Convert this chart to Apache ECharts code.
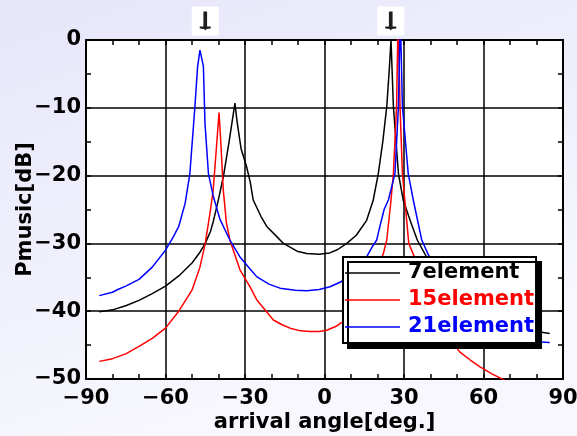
<!DOCTYPE html>
<html>
<head>
<meta charset="utf-8">
<script src="https://cdn.jsdelivr.net/npm/echarts@6/dist/echarts.min.js"></script>
<style>
  html, body { margin: 0; padding: 0; }
  #chart { width: 577px; height: 436px; }
</style>
</head>
<body>
<div id="chart"></div>
<script>
// arrival angle [deg], Pmusic [dB]
const names = ['7element', '15element', '21element'];
const colors = ['#000000', '#ff0000', '#0000ff'];

const elem7 = [
  [-85, -40.1], [-80, -39.8], [-75, -39.2], [-70, -38.4], [-65, -37.4], [-60, -36.3],
  [-55, -34.8], [-50, -32.9], [-47, -31.3], [-45, -30.0], [-43, -28.2], [-42, -26.8],
  [-40, -23.5], [-38, -19.8], [-36, -15.0], [-33.8, -9.3], [-33, -12.0], [-31.5, -16.0],
  [-29.4, -18.7], [-28, -21.0], [-26.9, -23.6], [-24, -26.0], [-21.8, -27.5], [-18, -29.0],
  [-15.5, -30.0], [-10, -31.2], [-6.7, -31.5], [-2, -31.6], [2, -31.4], [5, -30.9],
  [8.4, -30.0], [12, -28.8], [15.9, -26.6], [18.4, -23.6], [20.3, -19.7], [22, -15.0],
  [23.5, -9.8], [24.5, -4.0], [25.1, 0], [26, -9.8], [27.9, -19.7], [29.7, -23.6],
  [32.3, -26.6], [35, -29.5], [38.5, -32.0], [45, -35.5], [55, -38.5], [65, -40.8],
  [75, -42.3], [80, -43.0], [85, -43.3]
];
const elem15 = [
  [-85, -47.4], [-80, -47.0], [-75, -46.3], [-70, -45.2], [-65, -44.0], [-60, -42.5],
  [-55, -40.0], [-50, -36.9], [-47, -33.5], [-45, -30.0], [-43, -25.0], [-42, -22.1],
  [-41, -17.0], [-39.8, -10.7], [-39, -16.0], [-38.2, -22.1], [-37, -27.0], [-35.7, -29.5],
  [-34, -31.5], [-31.9, -33.9], [-28, -36.5], [-25.6, -38.3], [-22, -40.0], [-19.3, -41.3],
  [-16, -42.0], [-13, -42.5], [-9, -42.9], [-5.5, -43.0], [-2, -43.0], [0.8, -42.8],
  [4, -42.3], [7.1, -41.5], [12, -39.5], [17, -36.5], [20, -34.0], [22.2, -31.5],
  [23.5, -29.5], [25, -24.0], [26, -19.7], [27.2, -9.8], [27.8, 4.0], [28.5, -9.8],
  [29.4, -19.7], [31.8, -30.0], [35, -33.0], [38, -36.0], [42, -40.0], [46, -43.5],
  [51, -46.0], [55, -47.2], [58.7, -48.2], [63, -49.2], [67.5, -50.1], [70, -50.6]
];
const elem21 = [
  [-85, -37.7], [-80, -37.2], [-78, -36.8], [-75, -36.3], [-70, -35.3], [-65, -33.5],
  [-60, -31.0], [-57, -29.0], [-55, -27.5], [-52.6, -24.1], [-50.8, -19.7], [-48.9, -9.8],
  [-47.9, -4.0], [-47, -1.5], [-45.7, -3.9], [-45.1, -12.3], [-43.8, -19.7], [-42, -23.0],
  [-39.4, -26.5], [-35.7, -29.5], [-31.9, -32.0], [-28, -33.8], [-25.6, -34.9], [-21, -36.0],
  [-16.8, -36.6], [-11, -36.9], [-6.7, -37.0], [-2, -36.8], [2.1, -36.4], [6, -35.7],
  [9.6, -34.7], [13, -33.5], [15.9, -32.0], [18, -30.5], [19.7, -29.5], [20.9, -27.5],
  [22.5, -25.0], [24.1, -23.6], [26.6, -19.7], [27.9, -9.8], [28.6, 4.0], [29.4, -9.8],
  [31.6, -19.7], [33.5, -23.6], [36.7, -29.5], [39.2, -31.7], [45, -35.0], [55, -39.5],
  [65, -42.5], [75, -44.0], [80, -44.5], [85, -44.6]
];
const seriesData = [elem7, elem15, elem21];

// true arrival angles marked with arrows above the plot
const arrivalAngles = [-45, 25];

const xTicks = { min: -90, max: 90, interval: 30 };
const yTicks = { min: -50, max: 0, interval: 10 };

const FONT = 'DejaVu Sans';
const minus = v => String(v).replace('-', '\u2212');

var chartDom = document.getElementById('chart');
var myChart = echarts.init(chartDom, null, { renderer: 'canvas' });

const axisLine = { show: true, onZero: false, lineStyle: { color: '#000', width: 2 } };
const labelStyle = { color: '#000', fontSize: 21, fontWeight: 'bold', fontFamily: FONT };

function xAxisCfg(pos, labels) {
  return {
    type: 'value', position: pos, min: xTicks.min, max: xTicks.max, interval: xTicks.interval,
    axisLine: axisLine,
    axisTick: { show: true, inside: true, length: 5, lineStyle: { color: '#000', width: 1.5 } },
    minorTick: { show: true, splitNumber: 3, length: 5, lineStyle: { color: '#000', width: 1.5 } },
    splitLine: { show: labels, lineStyle: { color: '#000', width: 1.5 } },
    axisLabel: { show: labels, margin: 9, formatter: minus, ...labelStyle },
    name: labels ? 'arrival angle[deg.]' : '',
    nameLocation: 'middle', nameGap: 33, nameMoveOverlap: false,
    nameTextStyle: labelStyle
  };
}
function yAxisCfg(pos, labels) {
  return {
    type: 'value', position: pos, min: yTicks.min, max: yTicks.max, interval: yTicks.interval,
    axisLine: axisLine,
    axisTick: { show: true, inside: true, length: 5, lineStyle: { color: '#000', width: 1.5 } },
    minorTick: { show: true, splitNumber: 2, length: 5, lineStyle: { color: '#000', width: 1.5 } },
    splitLine: { show: labels, lineStyle: { color: '#000', width: 1.5 } },
    axisLabel: { show: labels, margin: 5, formatter: minus, ...labelStyle },
    name: labels ? 'Pmusic[dB]' : '',
    nameLocation: 'middle', nameGap: 50, nameMoveOverlap: false,
    nameTextStyle: labelStyle
  };
}

const arrowMarks = [];
arrivalAngles.forEach(a => arrowMarks.push({
  coord: [a, 0], symbol: 'rect', symbolSize: [27, 29], symbolOffset: [0, -19],
  itemStyle: { color: '#ffffff' }
}));
arrivalAngles.forEach(a => arrowMarks.push({
  coord: [a, 0],
  symbol: 'path://M4,0 L7,0 L7,15 L10,15 L10,17 L6.5,17.5 L5.5,19 L4.5,17.5 L1,17 L1,15 L4,15 Z',
  symbolSize: [11, 19], symbolOffset: [0, -19], symbolKeepAspect: false,
  itemStyle: { color: '#1e1e1e' }
}));

var option = {
  animation: false,
  backgroundColor: {
    type: 'linear', x: 0, y: 0, x2: 0.25, y2: 1,
    colorStops: [{ offset: 0, color: '#e6e6fa' }, { offset: 1, color: '#f7f7fd' }]
  },
  grid: {
    left: 86, right: 14, top: 40, bottom: 57, outerBoundsMode: 'none', containLabel: false,
    show: true, backgroundColor: '#ffffff', borderWidth: 0
  },
  xAxis: [xAxisCfg('bottom', true), xAxisCfg('top', false)],
  yAxis: [yAxisCfg('left', true), yAxisCfg('right', false)],
  legend: {
    orient: 'vertical', left: 343, top: 257,
    backgroundColor: '#ffffff', borderColor: '#000', borderWidth: 2, borderRadius: 0,
    shadowColor: '#000', shadowBlur: 0, shadowOffsetX: 5, shadowOffsetY: 5,
    padding: [5, 2, 5, 2], itemWidth: 55, itemHeight: 1.5, itemGap: 5, icon: 'rect',
    textStyle: { fontSize: 21, fontWeight: 'bold', fontFamily: FONT, lineHeight: 22, padding: [0, 0, 0, 3] },
    data: names.map((n, i) => ({ name: n, textStyle: { color: colors[i] } }))
  },
  series: names.map((n, i) => ({
    name: n, type: 'line', data: seriesData[i], symbol: 'none', clip: true,
    xAxisIndex: 0, yAxisIndex: 0,
    lineStyle: { color: colors[i], width: 1.5 }, itemStyle: { color: colors[i] },
    markPoint: i === 0 ? { silent: true, label: { show: false }, data: arrowMarks } : undefined
  }))
};

option && myChart.setOption(option);
</script>
</body>
</html>
